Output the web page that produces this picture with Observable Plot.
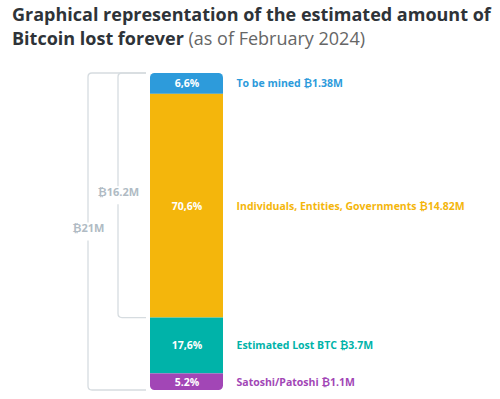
<!DOCTYPE html>
<html><head><meta charset="utf-8">
<script src="https://cdn.jsdelivr.net/npm/d3@7"></script>
<script src="https://cdn.jsdelivr.net/npm/@observablehq/plot@0.6"></script>
<style>
body{margin:0;background:#fff;font-family:"Open Sans",sans-serif;width:500px;height:399px;overflow:hidden;position:relative}
#title{position:absolute;left:12px;top:2px;font-size:18px;font-weight:700;color:#2e3338;line-height:24px;width:495px;white-space:nowrap}
#title span{font-weight:400;color:#666}
#chart{position:absolute;left:0;top:58px}
</style></head><body>
<div id="title">Graphical representation of the estimated amount of<br>Bitcoin lost forever <span>(as of February 2024)</span></div>
<div id="chart"></div>
<script>
const categories = ["To be mined", "Individuals, Entities, Governments", "Estimated Lost BTC", "Satoshi/Patoshi"];
const amounts = [1.38, 14.82, 3.7, 1.1]; // millions of BTC
const amountLabels = ["₿1.38M", "₿14.82M", "₿3.7M", "₿1.1M"];
const percentLabels = ["6,6%", "70,6%", "17,6%", "5.2%"];
const colors = ["#2d9bdb", "#f4b60c", "#00b3a9", "#a246b6"];
const bracketLabels = ["₿16.2M", "₿21M"];
const bracketCounts = [2, 4]; // number of top segments each bracket spans

const total = d3.sum(amounts);
let acc = total;
const rows = categories.map((cat, i) => {
  const top = acc; acc -= amounts[i];
  return {cat, top, bottom: acc, mid: (top + acc) / 2, pct: percentLabels[i], label: cat + " " + amountLabels[i]};
});
const brackets = bracketLabels.map((label, i) => ({
  label, from: total, to: rows[bracketCounts[i] - 1].bottom,
  mid: (total + rows[bracketCounts[i] - 1].bottom) / 2,
  offset: i === 0 ? 32 : 62
}));

const plot = Plot.plot({
  width: 500, height: 341,
  marginTop: 15, marginBottom: 9, marginLeft: 150, marginRight: 277,
  x: {domain: [0, 1], axis: null},
  y: {domain: [0, total], axis: null},
  color: {domain: categories, range: colors},
  style: {fontFamily: "'Open Sans', sans-serif", fontSize: "10.5px", background: "white"},
  marks: [
    Plot.rect(rows, {x1: 0, x2: 1, y1: "bottom", y2: "top", fill: "cat"}),
    Plot.text(rows, {x: 0.5, y: "mid", text: "pct", fill: "white", fontWeight: 700, fontSize: 10.5}),
    Plot.text(rows, {x: 1, y: "mid", text: "label", fill: "cat", fontWeight: 700, fontSize: 10.5, textAnchor: "start", dx: 13}),
    Plot.text(brackets, {x: 0, y: "mid", text: "label", fill: "#b0bbc4", fontWeight: 700, fontSize: 11})
  ]
});

// position bracket labels by their offsets
const svg = d3.select(plot);
const xs = plot.scale("x").apply, ys = plot.scale("y").apply;
svg.selectAll("g[aria-label='text']").filter((d, i) => i === 2).selectAll("text")
  .attr("transform", null)
  .each(function(d, i) {
    const b = brackets[i];
    d3.select(this).attr("x", xs(0) - b.offset).attr("y", ys(b.mid)).attr("text-anchor", "middle");
  });

// rounded bar corners via clip
const x0 = xs(0), x1 = xs(1), yT = ys(total), yB = ys(0);
svg.append("defs").append("clipPath").attr("id", "barclip")
  .append("rect").attr("x", x0).attr("y", yT).attr("width", x1 - x0).attr("height", yB - yT).attr("rx", 4.5);
svg.select("g[aria-label='rect']").attr("clip-path", "url(#barclip)");

// bracket lines
const bg = svg.insert("g", ":first-child").attr("fill", "none").attr("stroke", "#d6dce0").attr("stroke-width", 1.3);
for (const b of brackets) {
  const xb = x0 - b.offset, xt = x0 - 4, r = 4;
  const t = ys(b.from), bo = ys(b.to), m = ys(b.mid), gap = 9;
  bg.append("path").attr("d",
    `M${xt},${t}H${xb + r}Q${xb},${t} ${xb},${t + r}V${m - gap}` +
    `M${xb},${m + gap}V${bo - r}Q${xb},${bo} ${xb + r},${bo}H${xt}`);
}
document.getElementById("chart").append(plot);
</script>
</body></html>
